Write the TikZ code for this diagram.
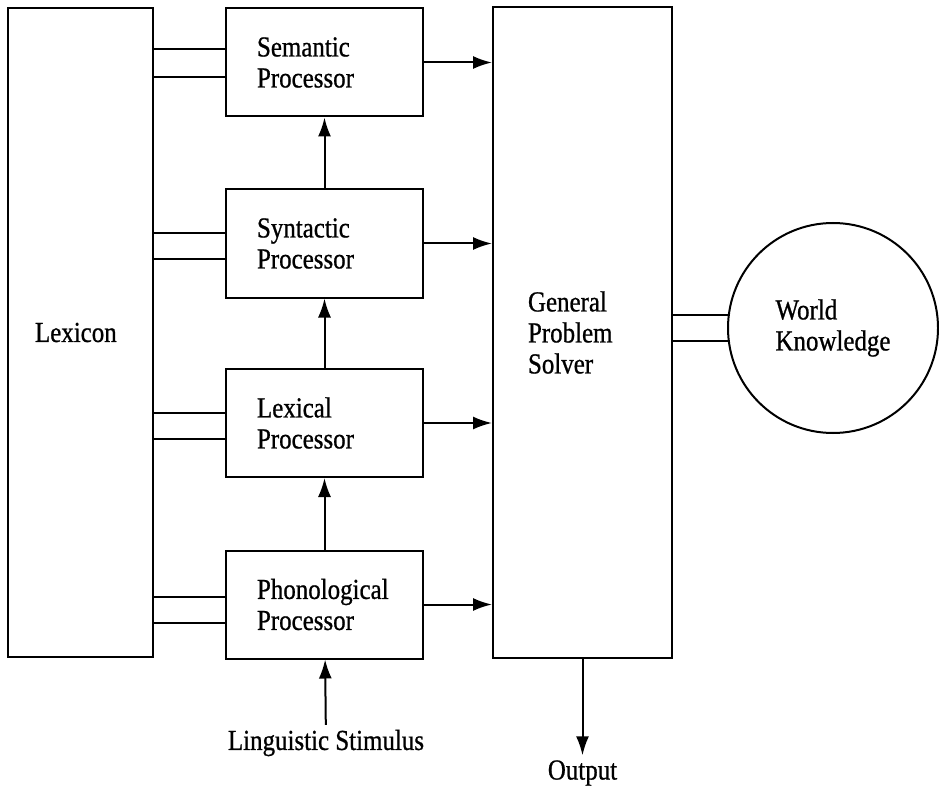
\documentclass[tikz,border=0pt]{standalone}
\usepackage{fontspec}
\setmainfont{Liberation Serif}[FakeStretch=0.86,FakeBold=0.8]
\usetikzlibrary{arrows.meta,positioning,calc}

\begin{document}
\begin{tikzpicture}[x=1pt,y=-1pt,line width=2pt,
        font=\fontsize{29}{31}\selectfont,
        box/.style={rectangle,draw,align=left},
        proc/.style={box,minimum height=108pt,inner xsep=31pt,text width=135pt},
        label/.style={inner sep=4pt},
        feed/.style={-{Latex[length=19pt,width=13pt]}}]

                \useasboundingbox (0,0) rectangle (939,786);

                \node[box,minimum height=649pt,inner xsep=27pt,text width=91pt] (lex) at (80.5,332.5) {Lexicon};
                \node[box,minimum height=651pt,inner xsep=35pt,text width=109pt] (gps) at (582.5,332.5) {General\\Problem\\Solver};
                \node[circle,draw,minimum size=210pt,align=left,inner sep=0pt] (wk) at (833,328) {World\\Knowledge};

                \foreach \n/\t/\y in {sem/Semantic/62.5, syn/Syntactic/243.5, lexp/Lexical/423, pho/Phonological/604.5}{
                    \node[proc] (\n) at (324.5,\y) {\t\\Processor};
                }

                \node[label] (stim) at (326,743) {Linguistic Stimulus};
                \node[label] (out) at (582.5,773) {Output};

                % double lines from the lexicon
                \foreach \n/\a/\b in {sem/-13.5/14.5, syn/-10.5/15.5, lexp/-10/16, pho/-7.5/18.5}{
                    \coordinate (\n-a) at ($(\n.west)+(0,\a)$);
                    \coordinate (\n-b) at ($(\n.west)+(0,\b)$);
                    \draw (lex.east |- \n-a) -- (\n-a);
                    \draw (lex.east |- \n-b) -- (\n-b);
                    \draw[feed] (\n.east) -- (gps.west |- \n.east);
                }

                \foreach \s/\d in {stim/pho, pho/lexp, lexp/syn, syn/sem}{
                    \draw[feed] (\s) -- (\d);
                }

                \draw[feed] (gps) -- (out);
                \draw (gps.east |- wk.173) -- (wk.173);
                \draw (gps.east |- wk.187) -- (wk.187);

        \end{tikzpicture}
\end{document}
